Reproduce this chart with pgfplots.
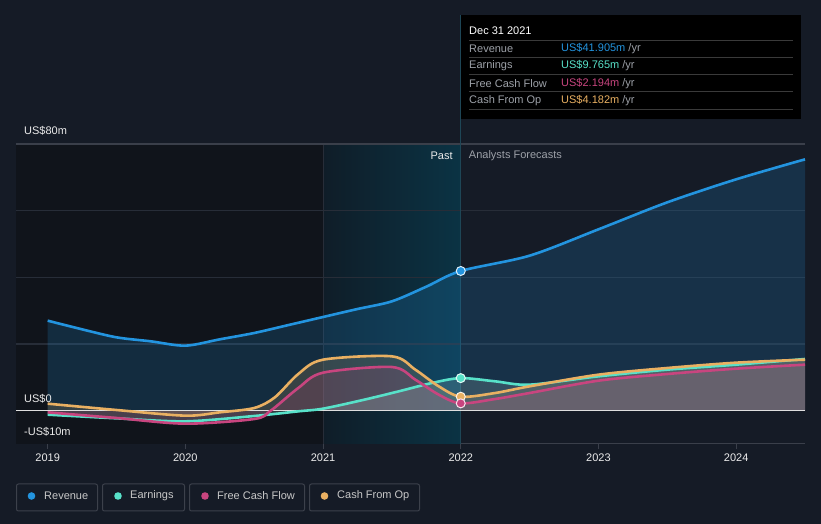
\documentclass[border=0pt]{standalone}
\usepackage{fontspec}
\setmainfont{Liberation Sans}
\usepackage{pgfplots}
\pgfplotsset{compat=1.18}
\definecolor{bg}{HTML}{151B26}
\definecolor{pastbg}{HTML}{10141B}
\definecolor{shadeL}{HTML}{0F1D28}
\definecolor{shadeR}{HTML}{0B3344}
\definecolor{rev}{HTML}{2394DF}
\definecolor{earn}{HTML}{58E1C9}
\definecolor{fcf}{HTML}{C8457F}
\definecolor{cfo}{HTML}{E9B062}
\definecolor{gridc}{HTML}{272D38}
\definecolor{axisc}{HTML}{3A3F4A}
\definecolor{txt}{HTML}{EBEBEB}
\definecolor{muted}{HTML}{9DA1A8}
\definecolor{sep}{HTML}{3A3A3A}
\definecolor{vline}{HTML}{1E4656}
\definecolor{legb}{HTML}{3C414B}
\newcommand{\fs}{\fontsize{11bp}{13bp}\selectfont}
\begin{document}
\begin{tikzpicture}
\fill[bg] (0,0) rectangle (821bp,524bp);
\begin{axis}[at={(16bp,80bp)}, anchor=south west, scale only axis,
  width=789bp, height=300bp,
  xmin=2018.77, xmax=2024.5, ymin=-10, ymax=80,
  clip=false,
  axis x line*=bottom, axis y line=none,
  axis line style={axisc, line width=1bp},
  xtick={2019,2020,2021,2022,2023,2024},
  xticklabel style={text=txt, font=\fs, yshift=-1bp},
  /pgf/number format/1000 sep={},
  /pgf/number format/assume math mode=true,
  tick align=outside, xtick pos=bottom, major tick length=5bp,
  tick style={axisc, line width=1bp},
  ytick=\empty,
]
% background regions
\fill[pastbg] (axis cs:2018.77,-10) rectangle (axis cs:2021,80);
\shade[left color=shadeL, right color=shadeR] (axis cs:2021,-10) rectangle (axis cs:2022,80);
\draw[gridc, line width=1bp] (axis cs:2021,-10) -- (axis cs:2021,80);
% grid lines
\draw[gridc, line width=1.2bp] (axis cs:2018.77,20) -- (axis cs:2024.5,20);
\draw[gridc, line width=1.2bp] (axis cs:2018.77,40) -- (axis cs:2024.5,40);
\draw[gridc, line width=1.2bp] (axis cs:2018.77,60) -- (axis cs:2024.5,60);
\draw[axisc, line width=1.2bp] (axis cs:2018.77,80) -- (axis cs:2024.5,80);
\draw[vline, line width=1bp] (axis cs:2022,-10) -- (axis cs:2022,118.8);

% revenue
\addplot[draw=none, fill=rev, fill opacity=0.19, smooth, tension=0.5] table {
x y
2019 27.0
2019.25 24.4
2019.5 22.0
2019.75 20.8
2020 19.5
2020.25 21.4
2020.5 23.3
2020.75 25.7
2021 28.1
2021.25 30.5
2021.5 32.8
2021.75 37.2
2022 41.905
2022.5 46.5
2023 54.4
2023.5 62.5
2024 69.4
2024.5 75.4
} \closedcycle;
\addplot[rev, line width=2.6bp, smooth, tension=0.5] table {
x y
2019 27.0
2019.25 24.4
2019.5 22.0
2019.75 20.8
2020 19.5
2020.25 21.4
2020.5 23.3
2020.75 25.7
2021 28.1
2021.25 30.5
2021.5 32.8
2021.75 37.2
2022 41.905
2022.5 46.5
2023 54.4
2023.5 62.5
2024 69.4
2024.5 75.4
};

% fills of the other series
\addplot[draw=none, fill=cfo, fill opacity=0.17, smooth, tension=0.5] table {
x y
2019 2.1
2019.5 0.2
2020 -1.5
2020.25 -0.5
2020.5 0.8
2020.65 4
2020.82 11.0
2021 15.3
2021.5 16.3
2021.67 12.3
2021.84 7.3
2022 4.182
2022.25 5.3
2022.5 7.3
2023 10.8
2023.5 12.8
2024 14.4
2024.5 15.3
} \closedcycle;
\addplot[draw=none, fill=fcf, fill opacity=0.18, smooth, tension=0.5] table {
x y
2019 -0.5
2019.5 -2.2
2020 -3.9
2020.5 -2.5
2020.62 0
2020.82 6.8
2021 11.4
2021.5 13.1
2021.67 9.3
2021.84 4.8
2022 2.194
2022.25 3.5
2022.5 5.3
2023 9.0
2023.5 11.0
2024 12.6
2024.5 13.8
} \closedcycle;
\addplot[draw=none, fill=white!70!earn, fill opacity=0.16, smooth, tension=0.5] table {
x y
2019 -1.2
2019.5 -2.3
2020 -3.2
2020.5 -1.6
2020.82 -0.2
2021 0.6
2021.3 3.3
2021.55 5.8
2021.79 8.3
2022 9.765
2022.25 8.8
2022.5 7.8
2023 10.3
2023.5 12.3
2024 13.8
2024.5 15.5
} \closedcycle;
\draw[white!75!gray, line width=1.5bp] (axis cs:2018.77,0) -- (axis cs:2024.5,0);

% lines
\addplot[earn, line width=2.6bp, smooth, tension=0.5] table {
x y
2019 -1.2
2019.5 -2.3
2020 -3.2
2020.5 -1.6
2020.82 -0.2
2021 0.6
2021.3 3.3
2021.55 5.8
2021.79 8.3
2022 9.765
2022.25 8.8
2022.5 7.8
2023 10.3
2023.5 12.3
2024 13.8
2024.5 15.5
};
\addplot[fcf, line width=2.6bp, smooth, tension=0.5] table {
x y
2019 -0.5
2019.5 -2.2
2020 -3.9
2020.5 -2.5
2020.62 0
2020.82 6.8
2021 11.4
2021.5 13.1
2021.67 9.3
2021.84 4.8
2022 2.194
2022.25 3.5
2022.5 5.3
2023 9.0
2023.5 11.0
2024 12.6
2024.5 13.8
};
\addplot[cfo, line width=2.6bp, smooth, tension=0.5] table {
x y
2019 2.1
2019.5 0.2
2020 -1.5
2020.25 -0.5
2020.5 0.8
2020.65 4
2020.82 11.0
2021 15.3
2021.5 16.3
2021.67 12.3
2021.84 7.3
2022 4.182
2022.25 5.3
2022.5 7.3
2023 10.8
2023.5 12.8
2024 14.4
2024.5 15.3
};
% markers at Dec 31 2021
\addplot[only marks, mark=*, mark size=4.5bp, mark options={fill=rev, draw=white!85!rev, line width=1bp}] coordinates {(2022,41.905)};
\addplot[only marks, mark=*, mark size=4.5bp, mark options={fill=earn, draw=white!85!earn, line width=1bp}] coordinates {(2022,9.765)};
\addplot[only marks, mark=*, mark size=4.5bp, mark options={fill=cfo, draw=white!85!cfo, line width=1bp}] coordinates {(2022,4.182)};
\addplot[only marks, mark=*, mark size=4.5bp, mark options={fill=fcf, draw=white!85!fcf, line width=1bp}] coordinates {(2022,2.194)};

% y labels
\node[anchor=west, text=txt, font=\fs, inner sep=0pt] at ([xshift=8bp,yshift=13bp]axis cs:2018.77,80) {US\$80m};
\node[anchor=west, text=txt, font=\fs, inner sep=0pt] at ([xshift=8bp,yshift=12bp]axis cs:2018.77,0) {US\$0};
\node[anchor=west, text=txt, font=\fs, inner sep=0pt] at ([xshift=8bp,yshift=12bp]axis cs:2018.77,-10) {-US\$10m};
\node[anchor=east, text=txt, font=\fs, inner sep=0pt] at ([xshift=-8bp,yshift=-12bp]axis cs:2022,80) {Past};
\node[anchor=west, text=muted, font=\fs, inner sep=0pt] at ([xshift=8bp,yshift=-12bp]axis cs:2022,80) {Analysts Forecasts};
\end{axis}

% tooltip
\fill[black] (461bp,405bp) rectangle (801bp,509bp);
\draw[sep, line width=1bp] (469bp,483bp) -- (793bp,483bp);
\draw[sep, line width=1bp] (469bp,466bp) -- (793bp,466bp);
\draw[sep, line width=1bp] (469bp,449bp) -- (793bp,449bp);
\draw[sep, line width=1bp] (469bp,432bp) -- (793bp,432bp);
\draw[sep, line width=1bp] (469bp,414bp) -- (793bp,414bp);
\node[anchor=west, text=white, font=\fs, inner sep=0pt] at (469bp,493bp) {Dec 31 2021};
\node[anchor=west, text=muted, font=\fs, inner sep=0pt] at (469bp,475bp) {Revenue};
\node[anchor=west, text=muted, font=\fs, inner sep=0pt] at (469bp,458bp) {Earnings};
\node[anchor=west, text=muted, font=\fs, inner sep=0pt] at (469bp,440bp) {Free Cash Flow};
\node[anchor=west, text=muted, font=\fs, inner sep=0pt] at (469bp,423bp) {Cash From Op};
\node[anchor=west, font=\fs, inner sep=0pt] at (561bp,475bp) {\textcolor{rev}{US\$41.905m} \textcolor{muted}{/yr}};
\node[anchor=west, font=\fs, inner sep=0pt] at (561bp,458bp) {\textcolor{earn}{US\$9.765m} \textcolor{muted}{/yr}};
\node[anchor=west, font=\fs, inner sep=0pt] at (561bp,440bp) {\textcolor{fcf}{US\$2.194m} \textcolor{muted}{/yr}};
\node[anchor=west, font=\fs, inner sep=0pt] at (561bp,423bp) {\textcolor{cfo}{US\$4.182m} \textcolor{muted}{/yr}};

% legend
\draw[legb, line width=1bp, rounded corners=2bp] (16.5bp,13bp) rectangle (97.5bp,40bp);
\draw[legb, line width=1bp, rounded corners=2bp] (102.5bp,13bp) rectangle (184.5bp,40bp);
\draw[legb, line width=1bp, rounded corners=2bp] (189.5bp,13bp) rectangle (304.5bp,40bp);
\draw[legb, line width=1bp, rounded corners=2bp] (309.5bp,13bp) rectangle (419.5bp,40bp);
\fill[rev] (31.5bp,28bp) circle (3.8bp);
\fill[earn] (118bp,28bp) circle (3.8bp);
\fill[fcf] (205bp,28bp) circle (3.8bp);
\fill[cfo] (324.5bp,28bp) circle (3.8bp);
\node[anchor=west, text=txt!85!black, font=\fs, inner sep=0pt] at (44bp,28bp) {Revenue};
\node[anchor=west, text=txt!85!black, font=\fs, inner sep=0pt] at (130bp,28bp) {Earnings};
\node[anchor=west, text=txt!85!black, font=\fs, inner sep=0pt] at (217bp,28bp) {Free Cash Flow};
\node[anchor=west, text=txt!85!black, font=\fs, inner sep=0pt] at (337bp,28bp) {Cash From Op};
\pgfresetboundingbox
\path (0,0) rectangle (821bp,524bp);
\end{tikzpicture}
\end{document}
